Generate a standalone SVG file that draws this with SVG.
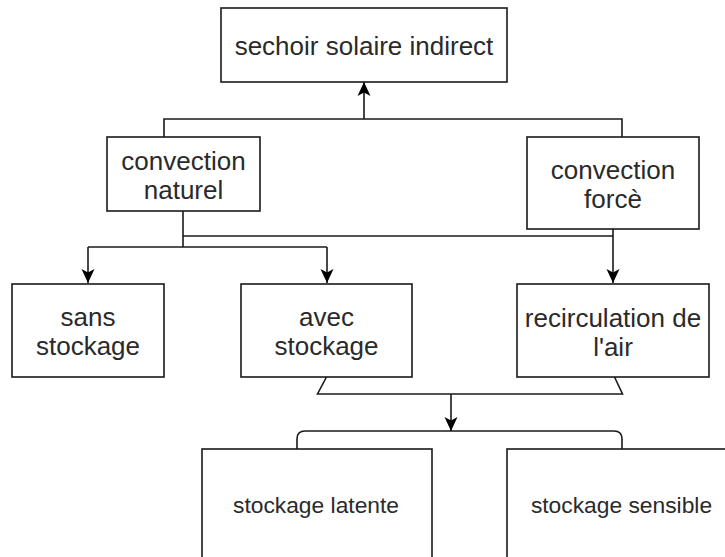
<svg xmlns="http://www.w3.org/2000/svg" width="725" height="557" viewBox="0 0 725 557">
<style>
.box{fill:#fff;stroke:#1a1a1a;stroke-width:1.6}
.lbl{font-family:"Liberation Sans",Arial,sans-serif;font-size:26px;fill:#2a2a2a;text-anchor:middle}
.sm{font-size:22.8px}
.con{fill:none;stroke:#1a1a1a;stroke-width:1.6}
</style>
<defs>
<marker id="arr" viewBox="0 0 14 14" refX="14" refY="7" markerWidth="14" markerHeight="14" markerUnits="userSpaceOnUse" orient="auto">
<path d="M0,0.5 L14,7 L0,13.5 L3.5,7 Z" fill="#000"/>
</marker>
</defs>
<rect width="725" height="557" fill="#fff"/>
<g id="connectors">
<path class="con" d="M164,137 V119 H622 V137"/>
<path class="con" d="M364,119 V82" marker-end="url(#arr)"/>
<path class="con" d="M183,211 V247"/>
<path class="con" d="M88,247 H327"/>
<path class="con" d="M88,247 V283" marker-end="url(#arr)"/>
<path class="con" d="M327,247 V283" marker-end="url(#arr)"/>
<path class="con" d="M183,236 H613"/>
<path class="con" d="M613,229 V283" marker-end="url(#arr)"/>
<path class="con" d="M326.5,377 L317.5,394 H622.5 L614.5,377"/>
<path class="con" d="M451,394 V431" marker-end="url(#arr)"/>
<path class="con" d="M297,449 V439 Q297,431 305,431 H614 Q622,431 622,439 V449"/>
</g>
<g id="n-sechoir">
<rect class="box" x="221" y="8" width="286" height="74"/>
<text class="lbl" x="364" y="55">sechoir solaire indirect</text>
</g>
<g id="n-conv-naturel">
<rect class="box" x="107" y="137" width="153" height="74"/>
<text class="lbl" x="183.5" y="170">convection</text>
<text class="lbl" x="183.5" y="199">naturel</text>
</g>
<g id="n-conv-force">
<rect class="box" x="527" y="137" width="172" height="92"/>
<text class="lbl" x="613" y="178.5">convection</text>
<text class="lbl" x="613" y="207.5">forcè</text>
</g>
<g id="n-sans">
<rect class="box" x="12" y="284" width="152" height="93"/>
<text class="lbl" x="88" y="326">sans</text>
<text class="lbl" x="88" y="355">stockage</text>
</g>
<g id="n-avec">
<rect class="box" x="241" y="284" width="171" height="93"/>
<text class="lbl" x="326.5" y="326">avec</text>
<text class="lbl" x="326.5" y="355">stockage</text>
</g>
<g id="n-recirc">
<rect class="box" x="517" y="284" width="192" height="93"/>
<text class="lbl" x="613" y="326.5">recirculation de</text>
<text class="lbl" x="613" y="355.5">l'air</text>
</g>
<g id="n-latente">
<rect class="box" x="202" y="449" width="230" height="130"/>
<text class="lbl sm" x="316" y="513">stockage latente</text>
</g>
<g id="n-sensible">
<rect class="box" x="507" y="449" width="240" height="130"/>
<text class="lbl sm" x="621.5" y="513">stockage sensible</text>
</g>
</svg>
